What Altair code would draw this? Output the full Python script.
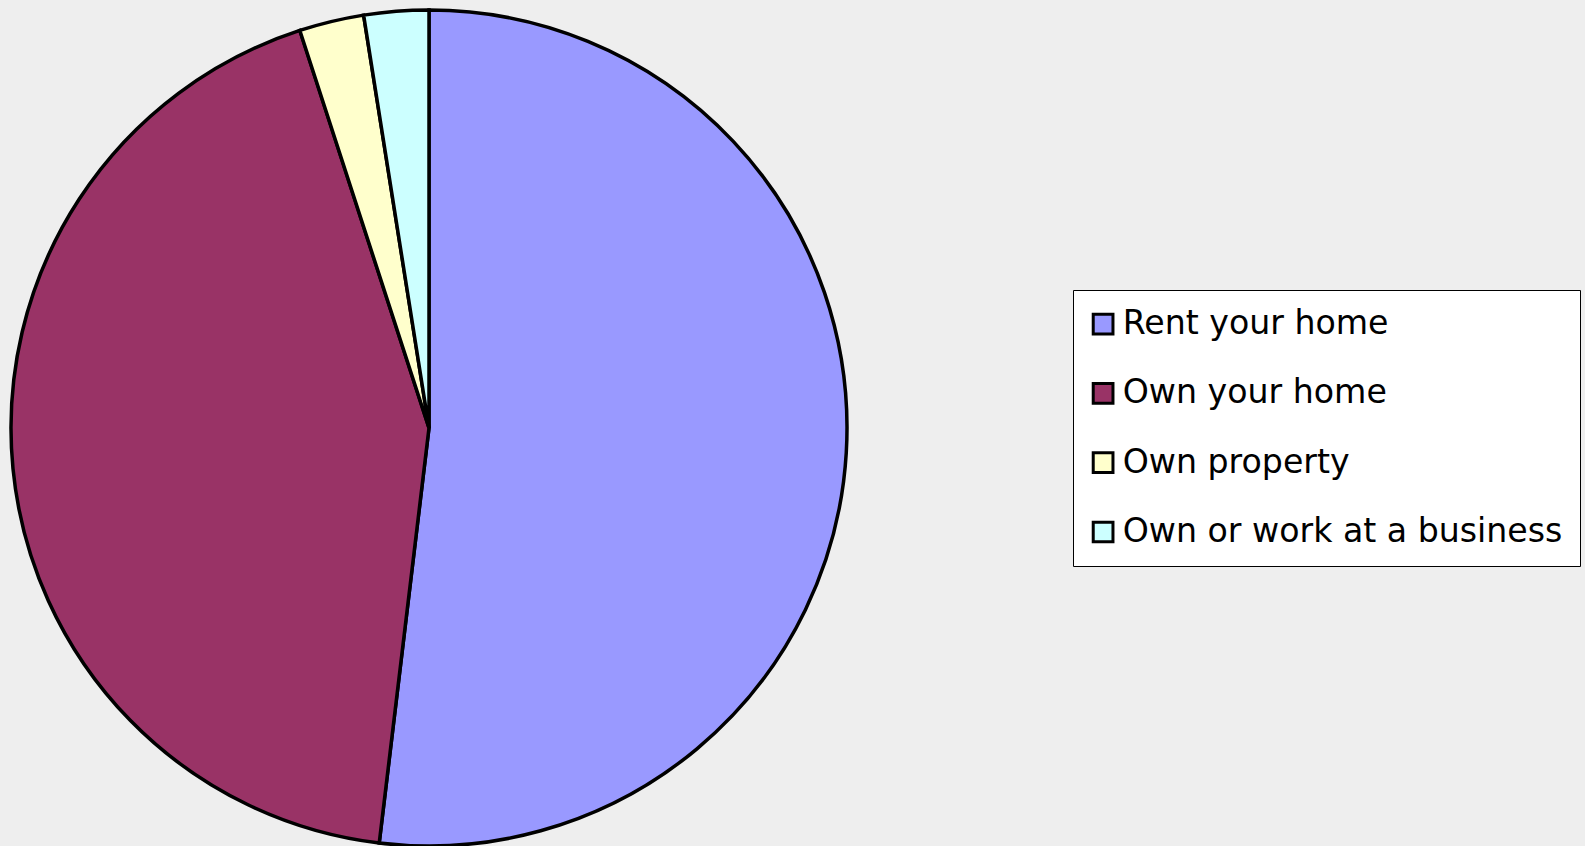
import altair as alt
import pandas as pd

categories = ["Rent your home", "Own your home", "Own property", "Own or work at a business"]
values = [51.9, 43.1, 2.5, 2.5]
colors = ["#9999ff", "#993366", "#ffffcc", "#ccffff"]

df = pd.DataFrame({"category": categories, "value": values, "order": list(range(len(categories)))})

chart = alt.Chart(df).mark_arc(radius=418, stroke="black", strokeWidth=3.5).encode(
    theta=alt.Theta("value:Q", stack=True),
    order=alt.Order("order:Q"),
    x=alt.value(429),
    y=alt.value(428),
    color=alt.Color(
        "category:N",
        scale=alt.Scale(domain=categories, range=colors),
        sort=categories,
        legend=alt.Legend(
            title=None,
            orient="none",
            legendX=1073,
            legendY=290,
            fillColor="white",
            strokeColor="black",
            padding=17.5,
            symbolType="square",
            symbolSize=390,
            symbolOffset=-4,
            symbolStrokeColor="black",
            symbolStrokeWidth=3,
            labelFont="DejaVu Sans",
            labelFontSize=33.2,
            labelColor="black",
            labelOffset=3,
            labelLimit=1000,
            rowPadding=35.3,
        ),
    ),
).properties(
    width=1585,
    height=846,
    autosize="none",
    padding=0,
    background="#eeeeee",
).configure_view(stroke=None)

chart.save("out.html", embed_options={"renderer": "svg", "actions": False})
